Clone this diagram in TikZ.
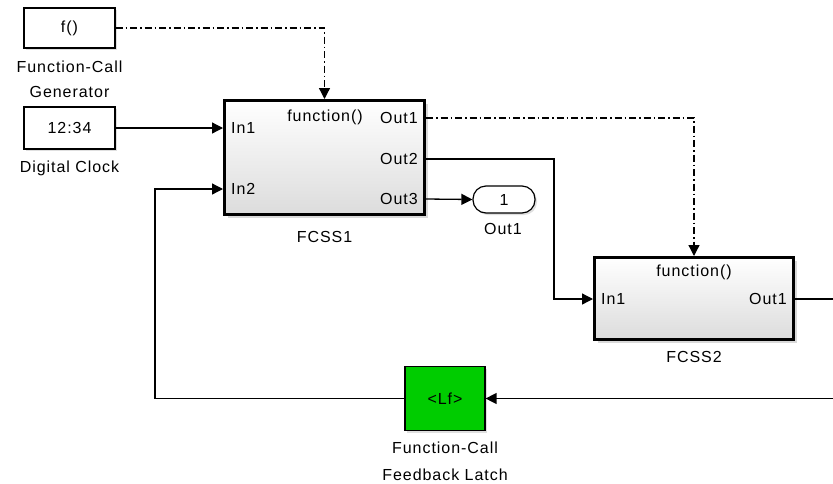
\documentclass[tikz,border=0pt]{standalone}
\usepackage{fontspec}
\setmainfont{Liberation Sans}[LetterSpace=6]
\usetikzlibrary{arrows.meta,positioning,calc,shadows}
\definecolor{latchGreen}{RGB}{0,204,0}
\definecolor{shadeGray}{RGB}{220,220,220}

\begin{document}
\begin{tikzpicture}[x=1pt,y=-1pt, font=\fontsize{16}{25}\selectfont,
    every node/.append style={inner sep=1.5pt},
    wire/.style={line width=1.3pt},
    sig/.style={wire, -{Triangle[length=11pt,width=11pt]}},
    trig/.style={sig, dash pattern=on 7pt off 3pt on 1.5pt off 3pt},
    blk/.style={draw, line width=1.2pt, fill=white, drop shadow={shadow xshift=2pt, shadow yshift=-2pt, opacity=0.25}},
    subsys/.style={draw, line width=3pt, top color=white, bottom color=shadeGray, drop shadow={shadow xshift=3pt, shadow yshift=-3pt, opacity=0.3}},
    port/.style={inner sep=2pt},
    lbl/.style={align=center}]
    \useasboundingbox (0,0) rectangle (833,483);
    \node[blk, minimum width=91pt, minimum height=40pt] (gen) at (69.5,28) {f()};
    \node[lbl] (genlbl) at (69.5,79) {Function-Call\\Generator};
    \node[blk, minimum width=91pt, minimum height=42pt] (clock) at (69.5,128) {12:34};
    \node (clocklbl) at (69.5,168) {Digital Clock};
    \node[subsys, minimum width=200pt, minimum height=114pt] (s1) at (324.5,157.5) {};
    \node[port, anchor=west] (s1in1) at (229,128) {In1};
    \node[port, anchor=west] (s1in2) at (229,189) {In2};
    \node[port] (s1fn) at (325,117) {function()};
    \node[port, anchor=east] (s1out1) at (420,118) {Out1};
    \node[port, anchor=east] (s1out2) at (420,159) {Out2};
    \node[port, anchor=east] (s1out3) at (420,199) {Out3};
    \node (s1lbl) at (324.5,237) {FCSS1};
    \node[blk, rounded corners=13pt, minimum width=62pt, minimum height=27pt] (out) at (504,199.5) {1};
    \node (outlbl) at (503,229) {Out1};
    \node[subsys, minimum width=199pt, minimum height=82pt] (s2) at (694,298.5) {};
    \node[port] (s2fn) at (694,272) {function()};
    \node[port, anchor=west] (s2in1) at (599,299) {In1};
    \node[port, anchor=east] (s2out1) at (789,299) {Out1};
    \node (s2lbl) at (694,357) {FCSS2};
    \node[blk, fill=latchGreen, minimum width=80pt, minimum height=64pt] (latch) at (445,398.5) {<Lf>};
    \node[lbl, font=\fontsize{16}{27}\selectfont] (latchlbl) at (445,461.5) {Function-Call\\Feedback Latch};
    \coordinate (bend) at (554,230);
    \coordinate (fbx) at (155,300);
    \coordinate (rimA) at (836,299);
    \coordinate (rimB) at (836,398.5);
    \draw[trig] (gen.east) -| (s1.north);
    \draw[sig] (clock.east) -- (s1.west |- s1in1);
    \draw[trig] (s1.east |- s1out1) -| (s2.north);
    \draw[sig] (s1.east |- s1out2) -| (bend) |- (s2.west |- s2in1);
    \draw[sig] (s1.east |- s1out3) -- (out.west);
    \draw[wire] (s2.east |- s2out1) -- (rimA);
    \draw[sig] (rimB) -- (latch.east);
    \draw[sig] (latch.west) -| (fbx) |- (s1.west |- s1in2);
\end{tikzpicture}
\end{document}
